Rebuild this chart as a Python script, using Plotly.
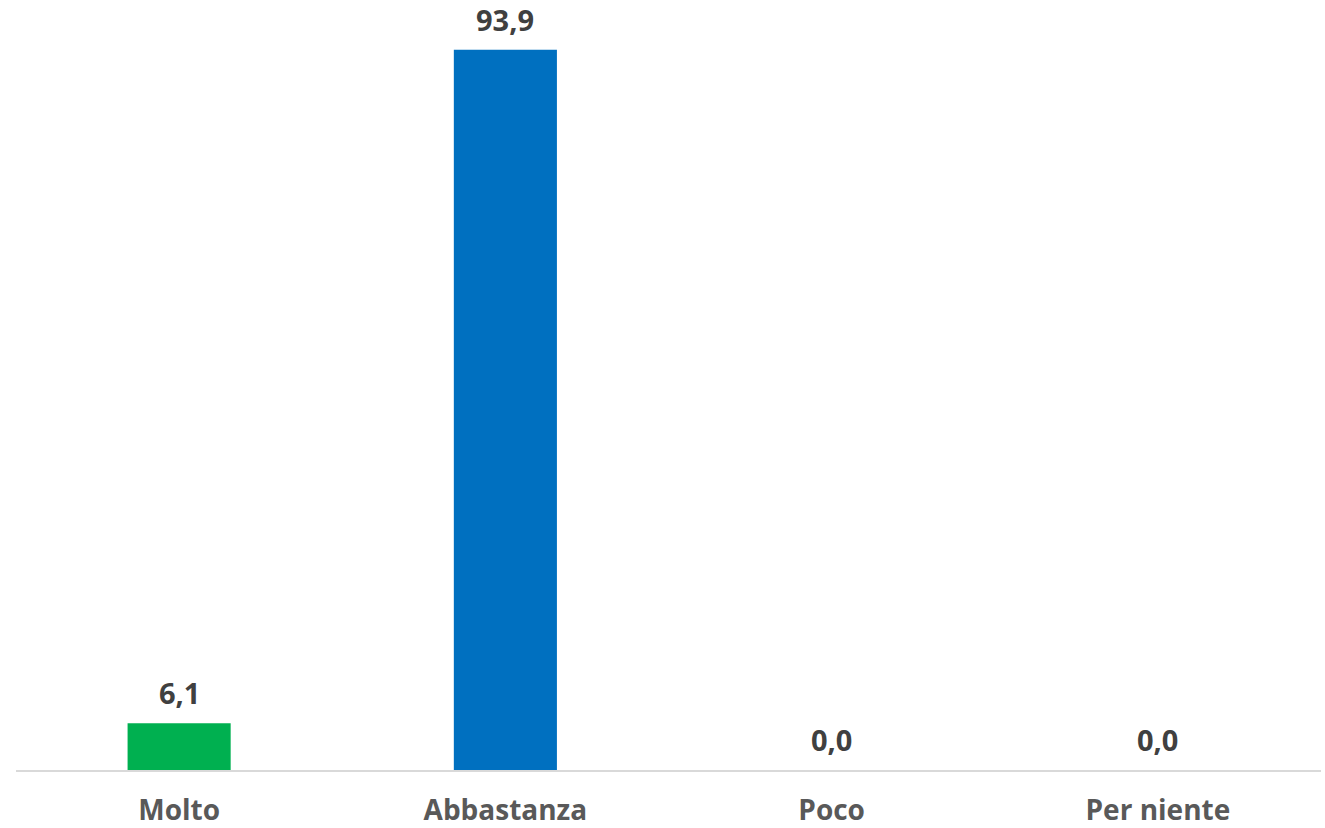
import plotly.graph_objects as go

categories = ["Molto", "Abbastanza", "Poco", "Per niente"]
values = [6.1, 93.9, 0.0, 0.0]
bar_colors = ["#00B050", "#0070C0", "#FF0000", "#C00000"]
value_labels = [f"{v:.1f}".replace(".", ",") for v in values]

fig = go.Figure()
fig.add_trace(go.Bar(
    x=categories, y=values, marker=dict(color=bar_colors, line=dict(width=0)),
    width=0.316, hoverinfo="skip", showlegend=False,
))
for c, v, t in zip(categories, values, value_labels):
    fig.add_annotation(x=c, y=v, text=f"<b>{t}</b>", showarrow=False,
                       yanchor="bottom", yshift=9,
                       font=dict(family="Open Sans", size=29, color="#404040"))

fig.update_layout(
    width=1325, height=828, margin=dict(l=16, r=4, t=3, b=58),
    paper_bgcolor="white", plot_bgcolor="white",
    xaxis=dict(showline=True, linecolor="#D9D9D9", linewidth=2, showgrid=False,
               automargin=False,
               tickfont=dict(family="Open Sans", size=28, color="#595959"),
               ticks="", ticklabelstandoff=14,
               tickvals=categories, ticktext=[f"<b>{c}</b>" for c in categories]),
    yaxis=dict(range=[0, 100], visible=False, showgrid=False, zeroline=False,
               automargin=False),
)
fig.write_html("out.html")
